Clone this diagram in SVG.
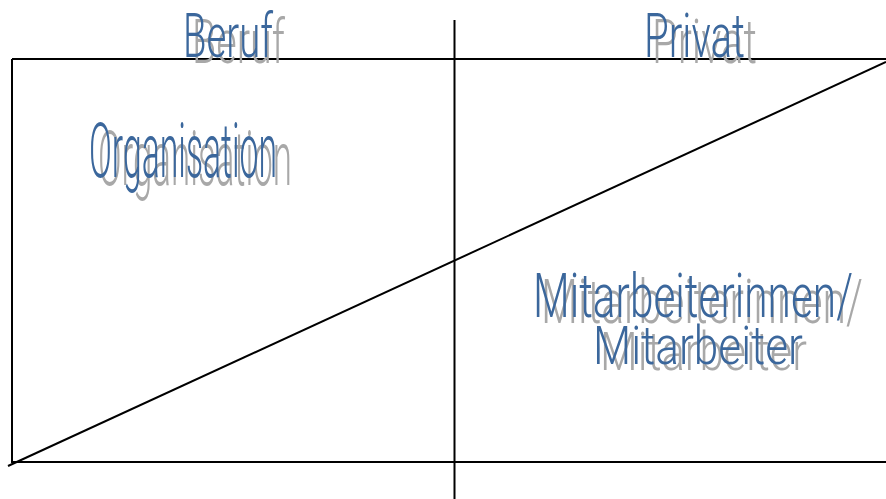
<svg xmlns="http://www.w3.org/2000/svg" width="886" height="499" viewBox="0 0 886 499">
  <style>
    .ln { stroke: #000; stroke-width: 2; fill: none; }
    .t { font-family: Roboto, "Liberation Sans", "DejaVu Sans", sans-serif; font-weight: 300; }
    .sh { fill: #a8a8a8; }
    .fg { fill: #3b679c; }
  </style>
  <rect width="886" height="499" fill="#fff"/>
  <g id="connectors">
    <line class="ln" x1="12" y1="59" x2="886" y2="59"/>
    <line class="ln" x1="12" y1="59" x2="12" y2="463"/>
    <line class="ln" x1="12" y1="462" x2="886" y2="462"/>
    <line class="ln" x1="454.5" y1="20" x2="454.5" y2="499"/>
    <line class="ln" x1="8" y1="466" x2="886" y2="62"/>
  </g>
  <g id="beruf">
    <text class="t sh" x="192" y="63" font-size="62" textLength="93" lengthAdjust="spacingAndGlyphs">Beruf</text>
    <text class="t fg" x="183" y="57" font-size="62" textLength="90" lengthAdjust="spacingAndGlyphs">Beruf</text>
  </g>
  <g id="privat">
    <text class="t sh" x="652" y="63" font-size="62" textLength="105" lengthAdjust="spacingAndGlyphs">Privat</text>
    <text class="t fg" x="644" y="57" font-size="62" textLength="101" lengthAdjust="spacingAndGlyphs">Privat</text>
  </g>
  <g id="organisation">
    <text class="t sh" x="98" y="185" font-size="76" textLength="194" lengthAdjust="spacingAndGlyphs">Organisation</text>
    <text class="t fg" x="89" y="177" font-size="76" textLength="188" lengthAdjust="spacingAndGlyphs">Organisation</text>
  </g>
  <g id="mitarbeiter">
    <text class="t sh" x="541" y="323" font-size="62" textLength="322" lengthAdjust="spacingAndGlyphs">Mitarbeiterinnen/</text>
    <text class="t fg" x="533" y="317" font-size="62" textLength="320" lengthAdjust="spacingAndGlyphs">Mitarbeiterinnen/</text>
    <text class="t sh" x="600" y="370" font-size="54" textLength="207" lengthAdjust="spacingAndGlyphs">Mitarbeiter</text>
    <text class="t fg" x="593" y="364" font-size="54" textLength="210" lengthAdjust="spacingAndGlyphs">Mitarbeiter</text>
  </g>
</svg>
